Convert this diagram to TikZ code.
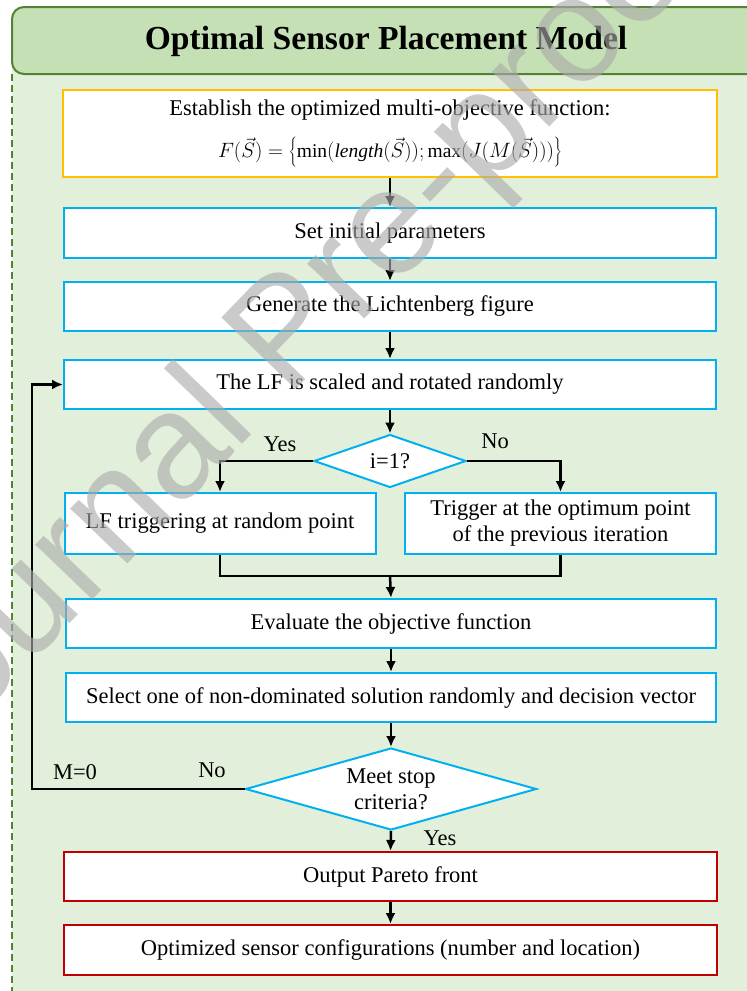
\documentclass[tikz,border=0pt]{standalone}
\usepackage{fontspec}
\setmainfont{Liberation Serif}
\newfontfamily\wmfont{Liberation Sans}
\usetikzlibrary{shapes.geometric}
\usetikzlibrary{arrows.meta}
\definecolor{bgreen}{RGB}{226,239,218}
\definecolor{tgreen}{RGB}{197,224,180}
\definecolor{dgreen}{RGB}{84,130,53}
\definecolor{nyellow}{RGB}{255,192,0}
\definecolor{ncyan}{RGB}{0,176,240}
\definecolor{nred}{RGB}{192,0,0}
\definecolor{wgray}{RGB}{170,170,170}

\begin{document}
\begin{tikzpicture}[x=1pt,y=-1pt,font=\fontsize{22.5}{26}\selectfont]
    \tikzstyle{box}=[draw=ncyan,fill=white,line width=2pt,inner sep=0,align=center]
    \tikzstyle{dec}=[diamond,draw=ncyan,fill=white,line width=2pt,inner sep=0,align=center]
    \tikzstyle{arrow}=[line width=2.5pt,-{Latex[length=11pt,width=10pt]}]
    \useasboundingbox (0,0) rectangle (747,991);
    \begin{scope}
        \clip (0,0) rectangle (747,991);
        \fill [bgreen] (12,60) rectangle (747,991);
        \draw [fill=tgreen, draw=dgreen, line width=2pt, rounded corners=12pt] (12,7) rectangle (770,74);
        \draw [dgreen, line width=1.5pt, dash pattern=on 7pt off 4pt] (12,74) -- (12,991);
    \end{scope}
    \node (title) at (386,41) {\fontsize{33.6}{36}\selectfont\bfseries Optimal Sensor Placement Model};
    % boxes
    \node[box, draw=nyellow, minimum width=654, minimum height=87] (obj) at (390,133.5)
        {Establish the optimized multi-objective function:\\[16pt]
        \fontsize{19.5}{22}\selectfont $F(\vec{S})=\left\{\mathrm{min}(\mathit{length}(\vec{S}));\mathrm{max}(J(M(\vec{S})))\right\}$};
    \node[box, minimum width=652, minimum height=50] (init) at (390,233) {Set initial parameters};
    \node[box, minimum width=652, minimum height=49] (gen) at (390,306.5) {Generate the Lichtenberg figure};
    \node[box, minimum width=652, minimum height=49] (scale) at (390,384.5) {The LF is scaled and rotated randomly};
    \node[dec, aspect=2.87, minimum width=152, minimum height=53] (first) at (390,461) {i=1?};
    \node[box, minimum width=311, minimum height=61] (trigL) at (220,523.5) {LF triggering at random point};
    \node[box, minimum width=311, minimum height=61] (trigR) at (560.5,523.5) {Trigger at the optimum point\\of the previous iteration};
    \coordinate (mrg) at (390,576);
    \node[box, minimum width=650, minimum height=49] (eval) at (391,623.5) {Evaluate the objective function};
    \node[box, minimum width=650, minimum height=49] (sel) at (391,697.5) {Select one of non-dominated solution randomly and decision vector};
    \node[dec, aspect=3.55, minimum width=291, minimum height=82] (stop) at (391,789) {Meet stop\\criteria?};
    \coordinate (lp) at (32,789);
    \node[box, draw=nred, minimum width=653, minimum height=49] (out) at (390.5,876.5) {Output Pareto front};
    \node[box, draw=nred, minimum width=653, minimum height=50] (cfg) at (390.5,950) {Optimized sensor configurations (number and location)};
    % labels
    \node (yes1) at (280,444) {Yes};
    \node (no1) at (495,441) {No};
    \node (m0) at (75,772) {M=0};
    \node (no2) at (212,770) {No};
    \node (yes2) at (440,838) {Yes};
    % connectors
    \draw (obj.south) -- (init.north) [arrow];
    \draw (init.south) -- (gen.north) [arrow];
    \draw (gen.south) -- (scale.north) [arrow];
    \draw (scale.south) -- (first.north) [arrow];
    \draw (first.west) -| (trigL.north) [arrow];
    \draw (first.east) -| (trigR.north) [arrow];
    \draw (trigL.south) |- (mrg) -| (trigR.south) [line width=2.5pt];
    \draw (mrg) -- (eval.north) [arrow];
    \draw (eval.south) -- (sel.north) [arrow];
    \draw (sel.south) -- (stop.north) [arrow];
    \draw (stop.west) -- (lp) |- (scale.west) [arrow];
    \draw (stop.south) -- (out.north) [arrow];
    \draw (out.south) -- (cfg.north) [arrow];
    % watermark
    \begin{scope}
        \clip (0,0) rectangle (747,991);
        \node[rotate=46, text=wgray, opacity=0.62, font=\fontsize{150}{150}\wmfont] (wm) at (292,338) {Journal Pre-proof};
    \end{scope}
\end{tikzpicture}
\end{document}
